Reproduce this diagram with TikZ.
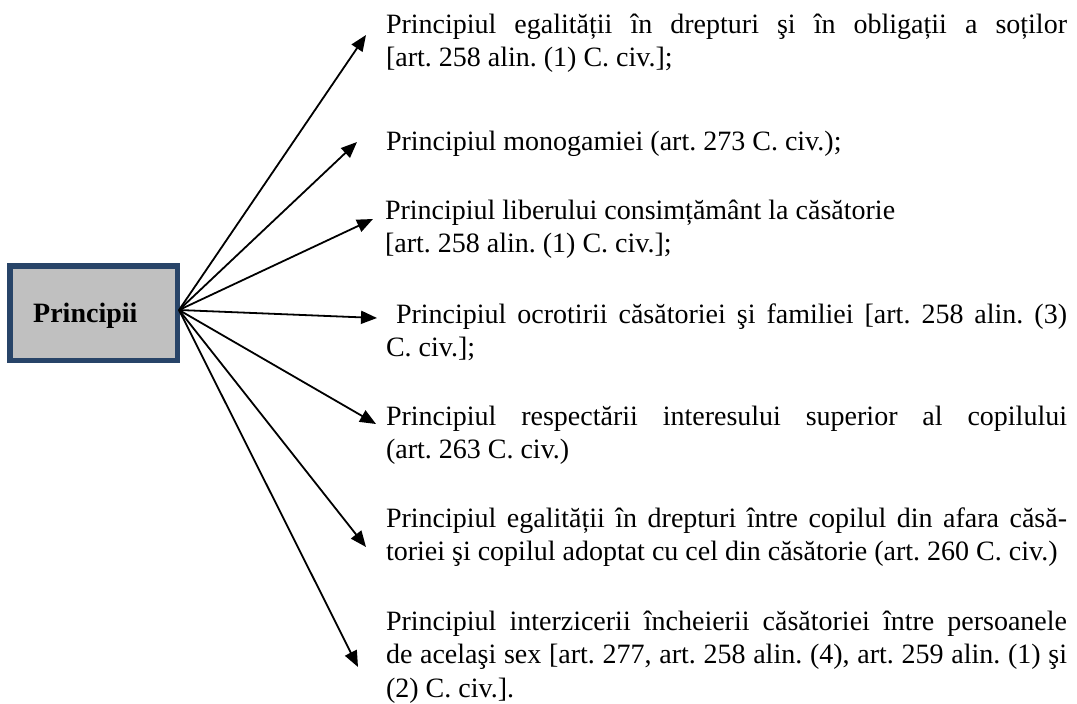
\documentclass[tikz,border=0pt]{standalone}
\usepackage{fontspec}
\setmainfont{Liberation Serif}
\usetikzlibrary{arrows.meta}
\definecolor{boxborder}{RGB}{40,68,104}
\definecolor{boxfill}{RGB}{192,192,192}
\newcommand{\ptext}[1]{\parbox[t]{681pt}{\frenchspacing\hyphenpenalty=10000\relax\tolerance=10000\relax #1}}
\begin{document}
\begin{tikzpicture}[x=1pt,y=-1pt,
  para/.style={anchor=base west, inner sep=0pt, outer sep=0pt,
    font=\fontsize{28}{33.5}\selectfont},
  conn/.style={line width=1.8pt, -{Triangle[length=16pt,width=13pt]}},
  mainbox/.style={draw=boxborder, fill=boxfill, line width=5.5pt, minimum width=167.5pt,
    minimum height=94.5pt, inner sep=0pt, outer sep=0pt},
  boxlabel/.style={anchor=base west, inner sep=0pt, font=\fontsize{28}{33.5}\selectfont\bfseries}]
\useasboundingbox (0,0) rectangle (1077,704);
\node[mainbox] (box) at (93.5,313) {};
\node[boxlabel] (lbl) at (33,322) {Principii};
\coordinate (src) at (179,310);

\node[para] (p1) at (386,33) {\ptext{Principiul egalității în drepturi şi în obligații a soților\linebreak{}%
[art. 258 alin. (1) C. civ.];}};
\node[para] (p2) at (386,150) {\ptext{Principiul monogamiei (art. 273 C. civ.);}};
\node[para] (p3) at (385,219) {\ptext{Principiul liberului consimțământ la căsătorie\newline{}%
[art. 258 alin. (1) C. civ.];}};
\node[para] (p4) at (386,323) {\ptext{\hspace*{10pt}Principiul ocrotirii căsătoriei şi familiei [art. 258 alin. (3)\linebreak{}%
C. civ.];}};
\node[para] (p5) at (386,425) {\ptext{Principiul respectării interesului superior al copilului\linebreak{}%
(art. 263 C. civ.)}};
\node[para] (p6) at (386,527) {\ptext{Principiul egalității în drepturi între copilul din afara căsă-\linebreak{}%
toriei şi copilul adoptat cu cel din căsătorie (art. 260 C. civ.)}};
\node[para] (p7) at (386,630) {\ptext{Principiul interzicerii încheierii căsătoriei între persoanele\linebreak{}%
de acelaşi sex [art. 277, art. 258 alin. (4), art. 259 alin. (1) şi\linebreak{}%
(2) C. civ.].}};

\coordinate (t1) at (366,35);
\coordinate (t2) at (357,142);
\coordinate (t3) at (373,219);
\coordinate (t4) at (377,318);
\coordinate (t5) at (376,424);
\coordinate (t6) at (366,547);
\coordinate (t7) at (358,667);
\foreach \i in {1,...,7} {\draw[conn] (src) -- (t\i);}
\end{tikzpicture}
\end{document}
